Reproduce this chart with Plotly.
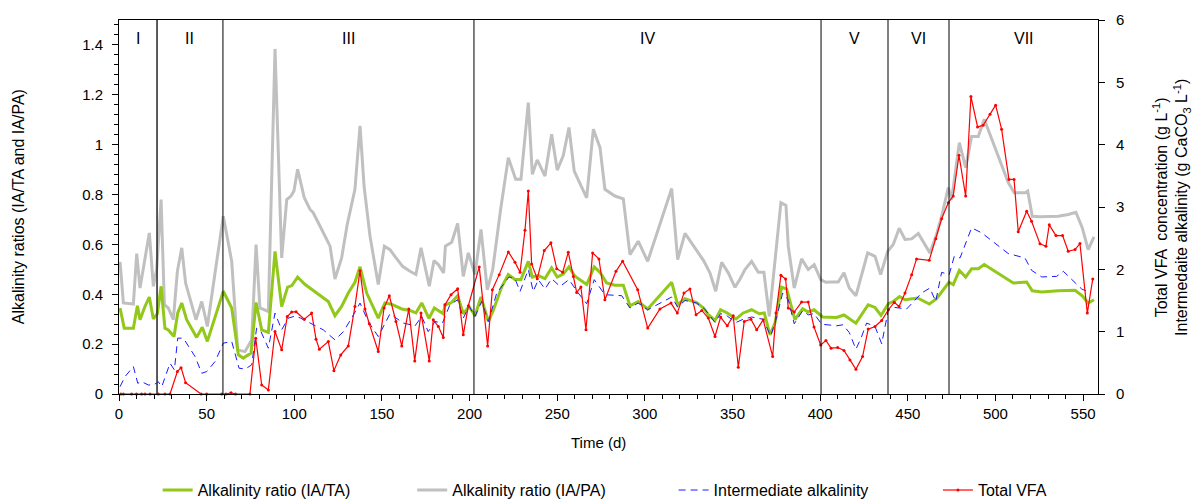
import plotly.graph_objects as go

# ---- Alkalinity ratio IA/TA (left axis) ----
ta_day = [0.6, 3.0, 8.2, 10.5, 12.0, 14.8, 17.3, 19.6, 21.9, 24.0, 26.2, 28.1, 31.4, 33.5, 35.8, 38.6,
          44.3, 47.5, 50.4, 59.5, 64.3, 68.1, 70.9, 75.3, 78.2, 81.4, 85.2, 89.0, 92.8, 96.2, 98.6,
          101.9, 106.0, 119.4, 123.2, 127.0, 130.8, 134.6, 137.5, 141.3, 147.9, 151.7, 155.4, 161.3,
          166.0, 169.4, 172.7, 176.8, 179.9, 185.0, 186.0, 189.4, 193.2, 196.4, 199.7, 203.1, 206.5,
          210.7, 213.5, 218.3, 222.1, 225.9, 229.3, 233.5, 235.8, 239.2, 243.0, 246.8, 250.0, 253.4,
          256.7, 260.1, 266.8, 271.1, 274.4, 278.2, 282.9, 287.7, 291.5, 296.2, 301.6, 315.3, 318.7,
          322.9, 329.5, 333.5, 336.2, 340.0, 343.2, 347.0, 352.0, 356.1, 360.9, 365.3, 368.1, 371.4,
          374.2, 378.0, 380.9, 385.6, 390.0, 393.2, 396.5, 401.4, 409.4, 413.6, 420.4, 427.4, 431.3,
          434.7, 438.9, 441.7, 445.3, 448.4, 455.6, 462.3, 466.4, 473.5, 475.9, 479.4, 483.0, 486.4,
          490.2, 493.6, 510.2, 517.8, 521.0, 526.4, 535.8, 545.4, 549.5, 552.9, 556.2]
ta_ratio = [0.345, 0.264, 0.264, 0.354, 0.298, 0.351, 0.389, 0.301, 0.322, 0.432, 0.264, 0.257, 0.231,
            0.325, 0.365, 0.298, 0.227, 0.268, 0.211, 0.412, 0.345, 0.157, 0.144, 0.164, 0.367, 0.257,
            0.247, 0.572, 0.351, 0.429, 0.435, 0.469, 0.44, 0.371, 0.314, 0.351, 0.405, 0.448, 0.510,
            0.405, 0.304, 0.365, 0.360, 0.341, 0.335, 0.325, 0.365, 0.303, 0.345, 0.322, 0.358, 0.365,
            0.394, 0.322, 0.351, 0.314, 0.389, 0.291, 0.335, 0.429, 0.479, 0.459, 0.459, 0.532, 0.469,
            0.475, 0.463, 0.506, 0.469, 0.481, 0.510, 0.472, 0.439, 0.510, 0.488, 0.445, 0.436, 0.436,
            0.354, 0.371, 0.341, 0.448, 0.358, 0.382, 0.367, 0.345, 0.318, 0.295, 0.338, 0.325, 0.301,
            0.325, 0.338, 0.322, 0.325, 0.237, 0.284, 0.429, 0.421, 0.298, 0.342, 0.329, 0.338, 0.309,
            0.307, 0.317, 0.284, 0.358, 0.347, 0.315, 0.362, 0.371, 0.391, 0.378, 0.385, 0.361, 0.382,
            0.448, 0.439, 0.496, 0.469, 0.502, 0.502, 0.519, 0.445, 0.449, 0.414, 0.409, 0.414, 0.416,
            0.394, 0.365, 0.378]

# ---- Alkalinity ratio IA/PA (left axis) ----
pa_day = [0.6, 2.5, 8.2, 10.1, 12.0, 14.8, 17.3, 19.6, 21.5, 24.0, 25.9, 28.1, 31.0, 33.3, 35.8, 38.0,
          41.0, 43.9, 47.2, 50.4, 54.8, 59.5, 64.3, 67.7, 71.9, 75.7, 78.2, 80.4, 85.2, 89.0, 92.8,
          95.7, 98.1, 99.8, 101.9, 105.7, 109.0, 110.8, 114.7, 117.5, 120.4, 123.2, 127.0, 130.2,
          134.6, 137.5, 139.8, 143.2, 147.9, 151.4, 154.6, 157.4, 160.3, 161.8, 166.0, 169.4, 172.3,
          177.0, 179.7, 182.2, 185.2, 186.2, 189.8, 193.2, 196.4, 199.3, 203.1, 206.5, 210.1, 213.2,
          217.7, 222.1, 226.3, 229.3, 233.5, 235.8, 238.6, 243.0, 246.8, 250.0, 253.4, 256.7, 259.7,
          263.9, 266.8, 270.6, 274.4, 277.2, 282.9, 287.7, 291.5, 296.2, 301.6, 315.3, 318.7, 322.9,
          329.5, 333.5, 337.1, 340.4, 343.8, 347.6, 351.4, 354.3, 357.1, 360.9, 364.7, 367.9, 371.0,
          377.6, 380.5, 381.8, 385.2, 389.4, 393.2, 396.6, 400.3, 403.3, 406.5, 410.3, 413.6, 416.6,
          420.4, 427.1, 431.3, 434.5, 438.5, 441.7, 445.1, 448.4, 452.2, 456.0, 462.6, 466.4, 469.3,
          473.1, 475.0, 479.4, 483.0, 486.4, 490.2, 493.6, 507.3, 510.7, 517.0, 518.4, 521.0, 525.4,
          535.8, 541.5, 545.9, 549.5, 552.9, 556.2]
pa_ratio = [0.53, 0.365, 0.361, 0.563, 0.425, 0.552, 0.646, 0.432, 0.50, 0.78, 0.358, 0.345, 0.298,
            0.492, 0.586, 0.445, 0.365, 0.298, 0.371, 0.271, 0.486, 0.713, 0.532, 0.177, 0.170, 0.217,
            0.599, 0.345, 0.331, 1.384, 0.546, 0.780, 0.794, 0.814, 0.901, 0.787, 0.740, 0.727, 0.673,
            0.633, 0.593, 0.461, 0.546, 0.680, 0.821, 1.075, 0.834, 0.633, 0.439, 0.593, 0.579, 0.552,
            0.526, 0.512, 0.492, 0.479, 0.586, 0.432, 0.535, 0.519, 0.486, 0.593, 0.609, 0.684, 0.472,
            0.566, 0.479, 0.660, 0.418, 0.499, 0.740, 0.948, 0.861, 0.861, 1.169, 0.881, 0.939, 0.874,
            1.042, 0.898, 0.955, 1.069, 0.894, 0.834, 0.787, 1.062, 0.988, 0.821, 0.794, 0.783, 0.559,
            0.613, 0.532, 0.824, 0.539, 0.644, 0.579, 0.535, 0.486, 0.412, 0.528, 0.486, 0.428, 0.461,
            0.499, 0.532, 0.488, 0.488, 0.311, 0.767, 0.756, 0.593, 0.425, 0.542, 0.499, 0.519, 0.459,
            0.448, 0.449, 0.449, 0.486, 0.425, 0.394, 0.566, 0.552, 0.479, 0.572, 0.60, 0.665, 0.620,
            0.622, 0.644, 0.566, 0.640, 0.713, 0.828, 0.780, 1.008, 0.908, 1.033, 1.033, 1.102, 0.848,
            0.807, 0.807, 0.814, 0.713, 0.711, 0.713, 0.720, 0.729, 0.667, 0.579, 0.630]

# ---- Intermediate alkalinity, g CaCO3/L (right axis) ----
ia_day = [0.6, 3.4, 8.2, 10.7, 12.9, 16.7, 19.8, 22.4, 24.4, 29.1, 31.6, 33.5, 36.7, 43.4, 47.2, 50.0,
          54.8, 59.5, 64.3, 68.5, 72.0, 75.7, 78.5, 81.0, 85.2, 89.0, 92.8, 96.6, 100.5, 103.4, 109.0,
          116.5, 123.2, 128.0, 132.7, 137.5, 142.2, 147.9, 154.6, 162.2, 168.9, 172.7, 176.4, 180.3,
          184.5, 188.8, 193.2, 196.4, 199.8, 203.1, 206.9, 210.7, 215.5, 220.2, 222.5, 225.9, 228.8,
          233.5, 236.3, 239.2, 243.0, 246.8, 251.6, 256.7, 262.0, 266.8, 271.1, 277.2, 286.8, 291.5,
          296.2, 301.6, 315.3, 318.7, 322.9, 329.5, 333.9, 336.2, 340.0, 343.2, 347.0, 352.0, 356.1,
          360.9, 367.3, 371.8, 374.8, 378.6, 381.8, 385.2, 390.0, 393.2, 396.5, 400.8, 409.4, 413.0,
          416.6, 420.4, 423.3, 426.5, 431.3, 435.1, 438.9, 442.4, 449.3, 457.9, 462.6, 465.9, 469.3,
          473.6, 476.5, 479.8, 486.4, 492.1, 499.7, 507.3, 516.8, 520.6, 526.4, 534.9, 538.7, 545.4,
          549.2, 553.9]
ia_conc = [0.118, 0.278, 0.44, 0.172, 0.198, 0.145, 0.145, 0.198, 0.118, 0.494, 0.386, 0.896, 0.896,
           0.60, 0.333, 0.359, 0.52, 0.816, 0.842, 0.414, 0.40, 0.467, 1.057, 1.0, 0.735, 1.298, 1.03,
           1.218, 1.25, 1.22, 1.138, 1.03, 0.869, 1.0, 1.218, 1.459, 1.163, 0.922, 1.287, 1.138, 1.094,
           1.244, 1.0, 1.163, 1.138, 1.432, 1.512, 1.218, 1.405, 1.244, 1.485, 1.163, 1.62, 1.807,
           1.878, 1.85, 1.646, 1.995, 1.646, 1.834, 1.684, 1.85, 1.726, 1.834, 1.62, 1.448, 1.834,
           1.593, 1.577, 1.379, 1.46, 1.351, 1.556, 1.395, 1.5, 1.46, 1.37, 1.287, 1.147, 1.29, 1.25,
           1.147, 1.20, 1.235, 1.20, 0.933, 1.19, 1.62, 1.512, 1.126, 1.335, 1.27, 1.29, 1.12, 1.094,
           1.11, 0.986, 0.719, 0.896, 1.138, 1.083, 0.805, 1.352, 1.39, 1.363, 1.62, 1.70, 1.485,
           1.952, 1.915, 2.209, 2.183, 2.666, 2.586, 2.425, 2.253, 2.183, 1.984, 1.878, 1.887, 1.968,
           1.791, 1.684, 1.63]

# ---- Total VFA, g/L (right axis) ----
vfa_day = [1.0, 2.5, 7.2, 10.0, 12.9, 14.8, 17.7, 22.4, 26.2, 29.1, 33.3, 35.4, 38.0, 46.8, 50.0,
           58.6, 61.0, 63.9, 66.5, 74.7, 78.0, 81.4, 85.2, 89.0, 92.8, 96.0, 98.5, 101.0, 105.7,
           109.9, 112.4, 114.3, 119.4, 122.6, 126.5, 130.8, 134.6, 137.5, 140.3, 142.8, 147.9, 151.2,
           154.2, 158.0, 161.3, 165.3, 168.7, 172.3, 177.0, 179.3, 182.2, 185.0, 186.0, 189.4, 193.2,
           196.4, 199.3, 205.5, 210.3, 213.0, 216.9, 222.1, 225.9, 228.8, 231.6, 233.5, 235.4, 238.6,
           242.6, 246.4, 249.7, 253.1, 256.3, 259.2, 261.1, 263.5, 266.4, 270.2, 273.8, 277.2, 283.5,
           287.3, 295.9, 301.6, 308.6, 314.9, 318.5, 322.3, 325.7, 329.2, 332.5, 336.2, 340.0, 343.2,
           347.0, 350.4, 353.3, 356.7, 360.5, 363.8, 367.5, 372.9, 374.8, 377.6, 380.3, 381.8, 385.2,
           389.4, 393.2, 396.5, 400.3, 403.3, 406.2, 410.0, 413.6, 417.0, 420.4, 424.2, 427.4, 431.3,
           435.1, 438.9, 442.3, 445.0, 448.4, 452.2, 455.0, 462.2, 466.0, 469.3, 473.1, 475.9, 479.2,
           483.0, 486.0, 489.8, 493.0, 496.9, 500.1, 503.5, 507.7, 510.6, 513.0, 517.8, 520.6, 525.4,
           528.8, 530.7, 534.5, 538.3, 541.5, 545.4, 548.2, 552.4, 555.5]
vfa_conc = [0, 0, 0, 0, 0, 0, 0, 0, 0, 0, 0.359, 0.423, 0.182, 0, 0, 0, 0, 0.02, 0, 0, 0.896, 0.145,
            0.064, 1.003, 0.708, 1.244, 1.315, 1.32, 1.20, 1.298, 0.88, 0.719, 0.842, 0.375, 0.627,
            0.772, 1.405, 1.979, 1.363, 1.126, 0.681, 1.379, 1.577, 1.163, 0.772, 1.363, 0.531, 1.298,
            0.531, 1.19, 1.083, 0.906, 1.432, 1.593, 1.689, 0.949, 1.416, 2.039, 0.772, 1.673, 1.915,
            2.28, 2.113, 1.952, 2.628, 3.255, 2.087, 1.85, 2.301, 2.425, 2.011, 1.952, 2.274, 1.887,
            1.63, 1.716, 1.03, 2.264, 2.167, 1.512, 1.968, 2.129, 1.673, 1.057, 1.363, 1.459, 1.298,
            1.62, 1.684, 1.271, 1.34, 1.218, 0.922, 1.234, 1.094, 1.255, 0.43, 1.163, 1.20, 1.03, 1.19,
            0.60, 1.298, 1.904, 1.845, 1.379, 1.315, 1.475, 1.475, 1.073, 0.788, 0.858, 0.735, 0.745,
            0.697, 0.547, 0.397, 0.60, 1.041, 1.083, 1.179, 1.352, 1.47, 1.405, 1.62, 1.915, 2.167,
            2.145, 2.489, 2.811, 3.068, 3.175, 3.83, 3.175, 4.774, 4.285, 4.312, 4.489, 4.634, 4.248,
            3.443, 3.443, 2.602, 2.933, 2.772, 2.409, 2.37, 2.714, 2.542, 2.542, 2.29, 2.317, 2.414,
            1.298, 1.845]

# ---- Operating phases ----
phase_bounds = [21.7, 59.3, 202.5, 400.5, 438.7, 473.5]
phase_names = ["I", "II", "III", "IV", "V", "VI", "VII"]
x_max = 558.5

FONT = "Liberation Sans, Arial, sans-serif"

fig = go.Figure()

fig.add_trace(go.Scatter(
    x=pa_day, y=pa_ratio, name="Alkalinity ratio (IA/PA)", mode="lines",
    line=dict(color="#C0C0C0", width=3), legend="legend2"))
fig.add_trace(go.Scatter(
    x=ia_day, y=ia_conc, name="Intermediate alkalinity", mode="lines", yaxis="y2",
    line=dict(color="#1a1aff", width=1, dash="7px,5px"), legend="legend3"))
fig.add_trace(go.Scatter(
    x=ta_day, y=ta_ratio, name="Alkalinity ratio (IA/TA)", mode="lines",
    line=dict(color="#92C81A", width=3), legend="legend"))
fig.add_trace(go.Scatter(
    x=vfa_day, y=vfa_conc, name="Total VFA", mode="lines+markers", yaxis="y2",
    line=dict(color="#FF0000", width=1.2), marker=dict(color="#FF0000", size=3),
    cliponaxis=False, legend="legend4"))

# phase boundaries
for i, b in enumerate(phase_bounds):
    fig.add_shape(type="line", xref="x", yref="paper", x0=b, x1=b, y0=0, y1=1,
                  line=dict(color="#333333" if i == 0 else "black", width=1.6 if i == 0 else 1))

edges = [0] + phase_bounds + [x_max]
for i, name in enumerate(phase_names):
    fig.add_annotation(x=(edges[i] + edges[i + 1]) / 2, y=1.424, xref="x", yref="y",
                       text=name, showarrow=False, font=dict(size=16, color="black", family=FONT))

# axis titles
fig.add_annotation(xref="paper", yref="paper", x=-0.103, y=0.5, xanchor="center",
                   text="Alkalinity ratios (IA/TA and IA/PA)",
                   textangle=-90, showarrow=False, font=dict(size=16, color="black", family=FONT))
fig.add_annotation(xref="paper", yref="paper", x=1.0745, y=0.5, xanchor="center",
                   text="Total VFA  concentration (g L<sup>-1</sup>)<br>Intermedaite alkalinity (g CaCO<sub>3</sub> L<sup>-1</sup>)",
                   textangle=-90, showarrow=False, font=dict(size=16, color="black", family=FONT))
fig.add_annotation(xref="paper", yref="paper", x=0.49, y=-0.131, yanchor="middle", text="Time (d)",
                   showarrow=False, font=dict(size=15, color="black", family=FONT))

legend_common = dict(orientation="h", y=-0.257, xanchor="left", yanchor="middle",
                     font=dict(size=16, family=FONT), bgcolor="rgba(0,0,0,0)", borderwidth=0)

fig.update_layout(
    width=1193, height=501,
    margin=dict(l=119, r=95, t=20, b=107, autoexpand=False),
    paper_bgcolor="white", plot_bgcolor="white",
    font=dict(family=FONT, size=15, color="black"),
    showlegend=True,
    legend=dict(x=0.0395, **legend_common),
    legend2=dict(x=0.2995, **legend_common),
    legend3=dict(x=0.5665, **legend_common),
    legend4=dict(x=0.8365, **legend_common),
    xaxis=dict(range=[0, x_max], dtick=50, tick0=0, showgrid=False, zeroline=False,
               showline=True, linecolor="black", linewidth=1, mirror=True,
               ticks="outside", ticklen=6, tickcolor="black",
               minor=dict(dtick=10, ticks="outside", ticklen=4, tickcolor="black"),
               tickfont=dict(size=15)),
    yaxis=dict(range=[0, 1.5], tickvals=[0, 0.2, 0.4, 0.6, 0.8, 1.0, 1.2, 1.4],
               ticktext=["0", "0.2", "0.4", "0.6", "0.8", "1", "1.2", "1.4"],
               showgrid=False, zeroline=False,
               showline=True, linecolor="black", linewidth=1,
               ticks="outside", ticklen=6, tickcolor="black", ticklabelstandoff=6,
               minor=dict(tickvals=[i * 0.04 for i in range(38)], ticks="outside", ticklen=4,
                          tickcolor="black"),
               tickfont=dict(size=15)),
    yaxis2=dict(range=[0, 6], dtick=1, overlaying="y", side="right", showgrid=False,
                zeroline=False, showline=True, linecolor="black", linewidth=1,
                ticks="outside", ticklen=6, tickcolor="black", ticklabelstandoff=8,
                tickfont=dict(size=15)),
)

fig.write_html("out.html")
